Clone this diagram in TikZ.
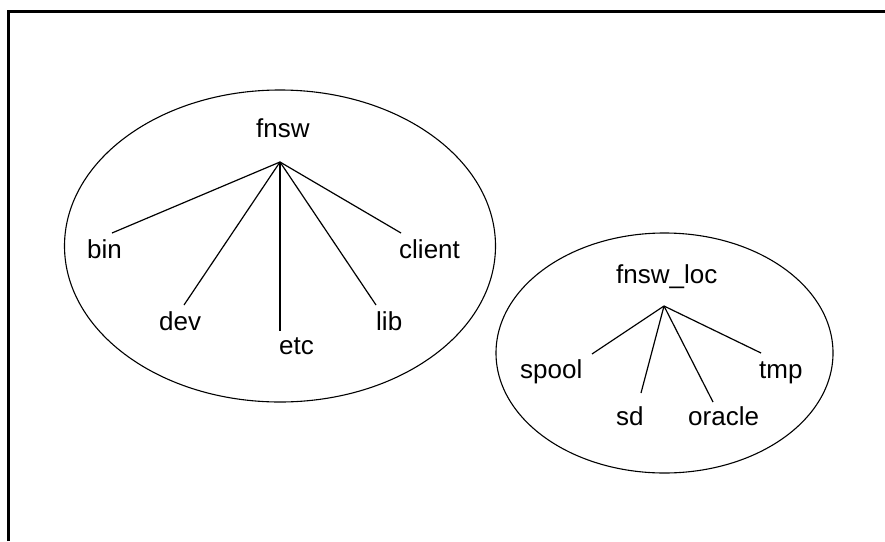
\documentclass[tikz,border=0pt]{standalone}
\usepackage{fontspec}
\setmainfont{Liberation Sans}
\tikzset{
	dirname/.style={anchor=base west, inner sep=0pt, font=\fontsize{26}{30}\selectfont},
	branch/.style={line width=1.2pt},
	volume/.style={line width=1.1pt}
}

\begin{document}
\begin{tikzpicture}[x=1pt, y=-1pt]
			%%%%% START %%%%%
			\useasboundingbox (0, 0) rectangle (885, 541);
			
			\draw[line width=3pt] (8.5, 541) -- (8.5, 11.5) -- (885, 11.5);
			
			% fnsw tree
			\draw[volume] (280, 246) ellipse (215.5 and 156);
			\node[dirname] (fnsw) at (256, 137) {fnsw};
			\coordinate (fnsw-hub) at (280, 162);
			
			\node[dirname] (bin) at (87, 258) {bin};
			\node[dirname] (dev) at (159, 330) {dev};
			\node[dirname] (etc) at (279, 354) {etc};
			\node[dirname] (lib) at (376, 330) {lib};
			\node[dirname] (client) at (399, 258) {client};
			
			\coordinate (bin-end) at (112, 233);
			\coordinate (dev-end) at (184, 305);
			\coordinate (etc-end) at (280, 331);
			\coordinate (lib-end) at (376, 305);
			\coordinate (client-end) at (401, 233);
			
			\draw[branch] (fnsw-hub) -- (bin-end);
			\draw[branch] (fnsw-hub) -- (dev-end);
			\draw[line width=2.5pt] (fnsw-hub) -- (etc-end);
			\draw[branch] (fnsw-hub) -- (lib-end);
			\draw[branch] (fnsw-hub) -- (client-end);
			
			% fnsw_loc tree
			\draw[volume] (664.5, 353) ellipse (168.5 and 120);
			\node[dirname] (fnsw-loc) at (616, 283) {fnsw\_loc};
			\coordinate (fnsw-loc-hub) at (664, 306);
			
			\node[dirname] (spool) at (520, 378) {spool};
			\node[dirname] (sd) at (616, 425) {sd};
			\node[dirname] (oracle) at (688, 425) {oracle};
			\node[dirname] (tmp) at (759, 378) {tmp};
			
			\coordinate (spool-end) at (592, 354);
			\coordinate (sd-end) at (641, 393);
			\coordinate (oracle-end) at (713, 402);
			\coordinate (tmp-end) at (761, 353);
			
			\draw[branch] (fnsw-loc-hub) -- (spool-end);
			\draw[branch] (fnsw-loc-hub) -- (sd-end);
			\draw[branch] (fnsw-loc-hub) -- (oracle-end);
			\draw[branch] (fnsw-loc-hub) -- (tmp-end);
			
			%%%%% END %%%%%
\end{tikzpicture}
\end{document}
